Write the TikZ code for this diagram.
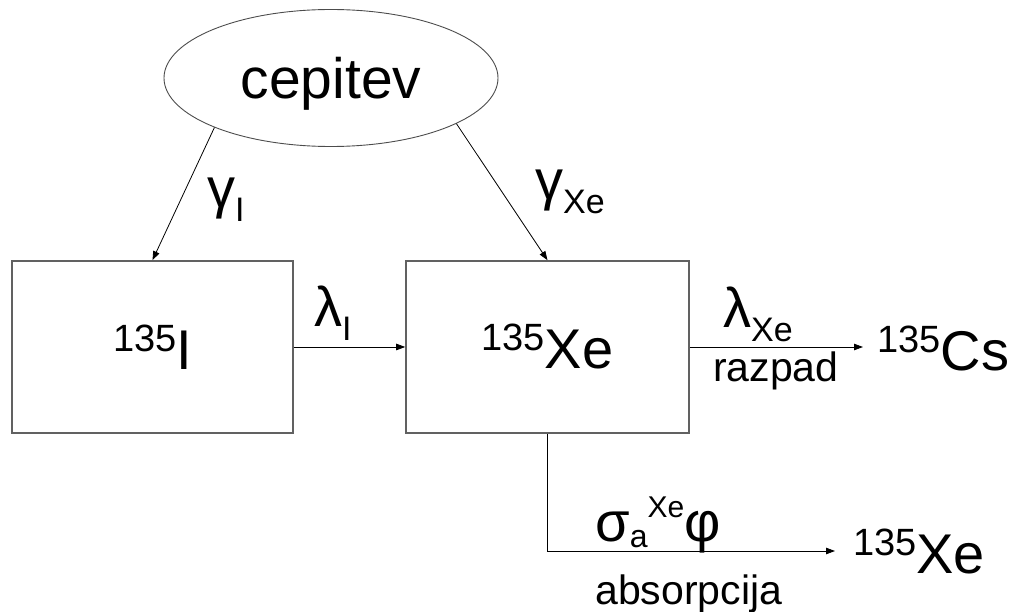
\documentclass[tikz,border=0pt]{standalone}
\usepackage{fontspec}
\setmainfont{Liberation Sans}
\usetikzlibrary{shapes.geometric,arrows.meta}
\definecolor{boxgray}{gray}{0.38}
\newcommand\hi[1]{\raisebox{18pt}{\fontsize{38}{38}\selectfont #1}}
\newcommand\lo[1]{\raisebox{-14pt}{\fontsize{34}{34}\selectfont #1}}
\newcommand\hisml[1]{\raisebox{24pt}{\fontsize{30}{30}\selectfont #1}}
\newcommand\losml[1]{\raisebox{-6pt}{\fontsize{32}{32}\selectfont #1}}
\begin{document}
\begin{tikzpicture}[x=1pt,y=-1pt,
  big/.style={font=\fontsize{56}{60}\selectfont},
  small/.style={font=\fontsize{41}{44}\selectfont},
  box/.style={draw=boxgray, line width=1.6pt, rectangle, minimum height=172pt, inner sep=0pt, big},
  arr/.style={-{Triangle[length=9pt,width=6.5pt]}, line width=0.8pt, draw=black},
  lab/.style={inner sep=0pt, anchor=base west}]
\useasboundingbox (0,0) rectangle (1018,612);

\node[ellipse, draw=black!70, line width=0.9pt, minimum width=334pt, minimum height=137pt,
      inner sep=0pt, font=\fontsize{57}{60}\selectfont, text depth=0pt] (ell) at (331,78) {cepitev};

\node[box, minimum width=281pt] (bI) at (152.5,347) {\hi{135}I};
\node[box, minimum width=283pt] (bX) at (547.5,347) {\hi{135}Xe};

\node[big, inner ysep=0pt, inner xsep=14pt, anchor=base west] (Cs) at (863,371) {\hi{135}Cs};
\node[big, inner ysep=0pt, inner xsep=18pt, anchor=base west] (X2) at (835,573) {\hi{135}Xe};

\draw[arr] (ell.203) -- (bI.north);
\draw[arr] (ell.-20) -- (bX.north);
\draw[arr] (bI.east) -- (bX.west);
\draw[arr] (bX.east) -- (bX.east -| Cs.west);
\draw[arr] (bX.south) |- (X2.west);

\node[lab, big] (gI) at (207,208) {γ\lo{I}};
\node[lab, big] (gX) at (535,200) {γ\lo{Xe}};
\node[lab, big] (lI) at (314,327) {λ\lo{I}};
\node[lab, big] (lX) at (723,328) {λ\lo{Xe}};
\node[lab, small] (raz) at (713,382) {razpad};
\node[lab, big] (sig) at (595,541) {σ\losml{a}\hisml{Xe}φ};
\node[lab, small] (abs) at (595,604) {absorpcija};
\end{tikzpicture}
\end{document}
